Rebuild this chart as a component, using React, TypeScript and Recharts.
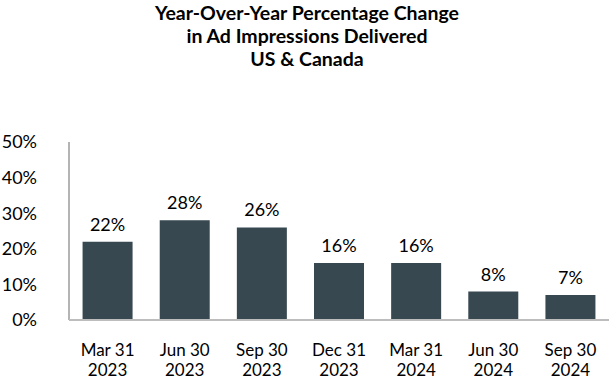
import { Bar, BarChart, LabelList, XAxis, YAxis } from "recharts";

const periods = [
  "Mar 31\n2023",
  "Jun 30\n2023",
  "Sep 30\n2023",
  "Dec 31\n2023",
  "Mar 31\n2024",
  "Jun 30\n2024",
  "Sep 30\n2024",
];
const yoyChange = [0.22, 0.28, 0.26, 0.16, 0.16, 0.08, 0.07];
const yTicks = [0, 0.1, 0.2, 0.3, 0.4, 0.5];
const titleLines = [
  "Year-Over-Year Percentage Change",
  "in Ad Impressions Delivered",
  "US & Canada",
];

const data = periods.map((period, i) => ({ period, value: yoyChange[i] }));

const FONT = "Lato, 'Open Sans', sans-serif";
const pct = (v: number) => `${Math.round(v * 100)}%`;

function PeriodTick(props: any) {
  const { x, y, payload } = props;
  const lines = String(payload.value).split("\n");
  return (
    <g transform={`translate(${x},${y})`}>
      {lines.map((line, i) => (
        <text
          key={i}
          x={0}
          y={24 + i * 20}
          textAnchor="middle"
          dominantBaseline="middle"
          fontSize={17}
          fontFamily={FONT}
          fill="#000"
        >
          {line}
        </text>
      ))}
    </g>
  );
}

export default function App() {
  return (
    <div
      style={{
        position: "absolute",
        left: 0,
        top: 0,
        width: 614,
        height: 384,
        background: "#fff",
        fontFamily: FONT,
      }}
    >
      <div
        style={{
          position: "absolute",
          top: 1,
          left: 0,
          width: 614,
          textAlign: "center",
          fontWeight: 700,
          fontSize: 19.5,
          lineHeight: "23px",
          color: "#000",
        }}
      >
        {titleLines.map((l) => (
          <div key={l}>{l}</div>
        ))}
      </div>
      <BarChart
        width={614}
        height={384}
        data={data}
        margin={{ top: 142, right: 5, bottom: 0, left: 0 }}
        barCategoryGap="17.6%"
      >
        <YAxis
          width={69}
          domain={[0, 0.5]}
          ticks={yTicks}
          tickFormatter={pct}
          tickLine={false}
          tickSize={0}
          tickMargin={32}
          axisLine={{ stroke: "#b4b4b4", strokeWidth: 2 }}
          tick={{ fontSize: 18, fill: "#000", fontFamily: FONT }}
        />
        <XAxis
          dataKey="period"
          height={64}
          interval={0}
          tickLine={false}
          axisLine={{ stroke: "#bdbdbd", strokeWidth: 2 }}
          tick={<PeriodTick />}
        />
        <Bar dataKey="value" fill="#374851" isAnimationActive={false}>
          <LabelList
            dataKey="value"
            position="top"
            offset={11}
            formatter={(v: any) => pct(Number(v))}
            style={{ fontSize: 18, fill: "#000", fontFamily: FONT }}
          />
        </Bar>
      </BarChart>
    </div>
  );
}
